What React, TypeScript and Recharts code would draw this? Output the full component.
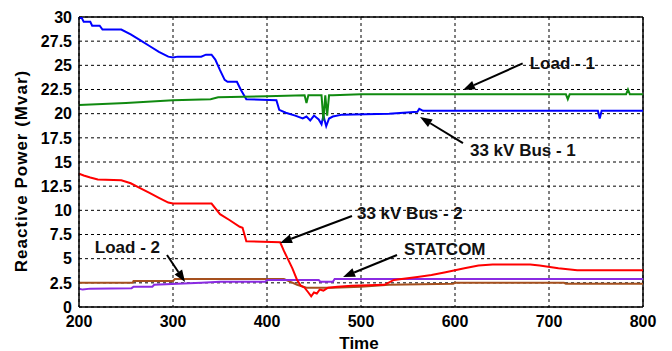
import React from 'react';
import { LineChart, Line, XAxis, YAxis, CartesianGrid, ReferenceLine } from 'recharts';

const timeTicks = [200, 300, 400, 500, 600, 700, 800];
const powerTicks = [0, 2.5, 5, 7.5, 10, 12.5, 15, 17.5, 20, 22.5, 25, 27.5, 30];

const bus1Time = [200, 203, 205, 212, 214, 222, 225, 245, 255, 265, 275, 285, 295, 300, 305, 330, 335, 341, 345, 350, 355, 358, 368, 372, 378, 410, 413, 420, 430, 438, 442, 446, 450, 455, 458, 460, 463, 466, 470, 480, 530, 560, 562, 566, 600, 650, 700, 752, 754, 756, 800];
const bus1Mvar = [29.9, 29.9, 29.5, 29.5, 29.1, 29.1, 28.7, 28.7, 28.2, 27.6, 27.0, 26.4, 25.9, 25.8, 25.9, 25.9, 26.1, 26.1, 25.6, 24.5, 23.5, 23.3, 23.3, 22.5, 21.5, 21.4, 20.4, 20.1, 19.8, 19.5, 19.7, 19.3, 19.8, 19.4, 18.9, 19.8, 18.7, 19.5, 19.7, 19.9, 20.0, 20.2, 20.5, 20.3, 20.3, 20.3, 20.3, 20.3, 19.5, 20.3, 20.3];

const load1Time = [200, 250, 300, 340, 348, 400, 440, 442, 444, 458, 460, 462, 464, 466, 470, 500, 718, 720, 722, 782, 784, 786, 800];
const load1Mvar = [20.9, 21.1, 21.4, 21.5, 21.7, 21.8, 21.9, 21.1, 21.9, 21.9, 19.3, 21.9, 19.8, 21.9, 21.9, 22.0, 22.0, 21.5, 22.0, 22.0, 22.5, 22.0, 22.0];

const bus2Time = [200, 205, 212, 220, 245, 255, 265, 275, 285, 295, 300, 341, 350, 360, 371, 374, 378, 414, 418, 422, 427, 432, 436, 440, 444, 447, 450, 453, 456, 460, 465, 475, 490, 525, 535, 560, 575, 590, 610, 625, 640, 680, 690, 710, 730, 800];
const bus2Mvar = [13.8, 13.6, 13.4, 13.2, 13.1, 12.8, 12.3, 11.8, 11.3, 10.8, 10.7, 10.7, 9.6, 9.0, 8.3, 8.2, 6.8, 6.7, 5.8, 5.0, 4.0, 2.8, 2.2, 2.0, 1.5, 1.1, 1.5, 1.4, 1.8, 1.7, 2.0, 2.1, 2.2, 2.3, 2.8, 3.1, 3.3, 3.6, 4.0, 4.3, 4.4, 4.4, 4.3, 4.0, 3.8, 3.8];

const statcomTime = [200, 204, 212, 256, 258, 278, 280, 330, 350, 398, 400, 455, 457, 470, 472, 800];
const statcomMvar = [1.9, 1.8, 1.9, 1.95, 2.1, 2.1, 2.3, 2.5, 2.6, 2.6, 2.8, 2.8, 2.6, 2.6, 2.9, 2.9];

const load2Time = [200, 257, 258, 300, 302, 418, 425, 432, 442, 470, 500, 530, 598, 600, 716, 718, 800];
const load2Mvar = [2.5, 2.5, 2.7, 2.7, 2.9, 2.9, 2.6, 2.3, 2.0, 2.0, 2.1, 2.3, 2.4, 2.5, 2.5, 2.4, 2.4];

const annLabels = ['Load - 1', '33 kV Bus - 1', '33 kV Bus - 2', 'STATCOM', 'Load - 2'];
const annTail = [[672, 25.2], [608.5, 16.96], [490.4, 9.41], [538.3, 5.38], [293.6, 5.38]];
const annTip = [[608.5, 22.45], [562.8, 19.65], [413.8, 6.62], [480.9, 3.1], [312.8, 2.59]];

const annStyle = [
  { dx: 7, dy: 0, anchor: 'start' },
  { dx: 7, dy: 7, anchor: 'start' },
  { dx: 5, dy: -3, anchor: 'start' },
  { dx: 7, dy: -5, anchor: 'start' },
  { dx: -7, dy: -7, anchor: 'end' },
];

const zip = (ts: number[], vs: number[]) => ts.map((t, i) => ({ t, v: vs[i] }));

const bus1 = zip(bus1Time, bus1Mvar);
const load1 = zip(load1Time, load1Mvar);
const bus2 = zip(bus2Time, bus2Mvar);
const statcom = zip(statcomTime, statcomMvar);
const load2 = zip(load2Time, load2Mvar);

const FONT = '"Liberation Sans", Arial, Helvetica, sans-serif';

const makeArrow = (label: string, st: { dx: number; dy: number; anchor: string }) => (props: any) => {
  const { x1, y1, x2, y2 } = props;
  const ang = Math.atan2(y2 - y1, x2 - x1);
  const L = 12;
  const W = 4.5;
  const bx = x2 - L * Math.cos(ang);
  const by = y2 - L * Math.sin(ang);
  const p1x = bx + W * Math.sin(ang);
  const p1y = by - W * Math.cos(ang);
  const p2x = bx - W * Math.sin(ang);
  const p2y = by + W * Math.cos(ang);
  return (
    <g>
      <line x1={x1} y1={y1} x2={bx} y2={by} stroke="#000" strokeWidth={2} />
      <polygon points={`${x2},${y2} ${p1x},${p1y} ${p2x},${p2y}`} fill="#000" />
      <text
        x={x1 + st.dx}
        y={y1 + st.dy}
        textAnchor={st.anchor as any}
        dominantBaseline="central"
        fontFamily={FONT}
        fontWeight="bold"
        fontSize={17}
        fill="#111"
      >
        {label}
      </text>
    </g>
  );
};

export default function App() {
  return (
    <LineChart width={664} height={343} margin={{ top: 9, right: 29, bottom: 0, left: 0 }}>
      <CartesianGrid stroke="#000" strokeDasharray="3 3" strokeWidth={1} />
      <XAxis
        dataKey="t"
        type="number"
        domain={[200, 800]}
        ticks={timeTicks}
        allowDataOverflow
        height={44}
        axisLine={{ stroke: '#000', strokeWidth: 1.5 }}
        tickLine={false}
        tickSize={0}
        tickMargin={9}
        tick={{ fill: '#000', fontSize: 16, fontWeight: 'bold', fontFamily: FONT }}
        label={{
          value: 'Time',
          position: 'insideBottom',
          offset: 0,
          content: (p: any) => {
            const vb = p.viewBox;
            return (
              <text x={vb.x + vb.width / 2 - 2} y={vb.y + 36} textAnchor="middle" dominantBaseline="central" fontFamily={FONT} fontWeight="bold" fontSize={17} fill="#000">
                Time
              </text>
            );
          },
        }}
      />
      <YAxis
        type="number"
        domain={[0, 30]}
        ticks={powerTicks}
        allowDataOverflow
        width={71}
        axisLine={{ stroke: '#000', strokeWidth: 1.5 }}
        tickLine={false}
        tickSize={0}
        tickMargin={7}
        tick={{ fill: '#000', fontSize: 16, fontWeight: 'bold', fontFamily: FONT }}
        label={{
          value: 'Reactive Power (Mvar)',
          position: 'insideLeft',
          content: (p: any) => {
            const vb = p.viewBox;
            const cx = vb.x + 13;
            const cy = vb.y + vb.height / 2 + 9;
            return (
              <text x={cx} y={cy} transform={`rotate(-90 ${cx} ${cy})`} textAnchor="middle" dominantBaseline="central" fontFamily={FONT} fontWeight="bold" fontSize={17} letterSpacing={1} fill="#000">
                Reactive Power (Mvar)
              </text>
            );
          },
        }}
      />
      <ReferenceLine y={30} stroke="#000" strokeWidth={1.5} />
      <ReferenceLine x={800} stroke="#000" strokeWidth={1.5} />
      <Line data={bus1} dataKey="v" type="linear" stroke="#0000ff" strokeWidth={2} dot={false} isAnimationActive={false} />
      <Line data={load1} dataKey="v" type="linear" stroke="#108a10" strokeWidth={2} dot={false} isAnimationActive={false} />
      <Line data={load2} dataKey="v" type="linear" stroke="#a5501e" strokeWidth={2} dot={false} isAnimationActive={false} />
      <Line data={statcom} dataKey="v" type="linear" stroke="#8a2be2" strokeWidth={2} dot={false} isAnimationActive={false} />
      <Line data={bus2} dataKey="v" type="linear" stroke="#ff0000" strokeWidth={2} dot={false} isAnimationActive={false} />
      {annLabels.map((label, i) => (
        <ReferenceLine
          key={label}
          segment={[
            { x: annTail[i][0], y: annTail[i][1] },
            { x: annTip[i][0], y: annTip[i][1] },
          ]}
          shape={makeArrow(label, annStyle[i])}
        />
      ))}
    </LineChart>
  );
}
